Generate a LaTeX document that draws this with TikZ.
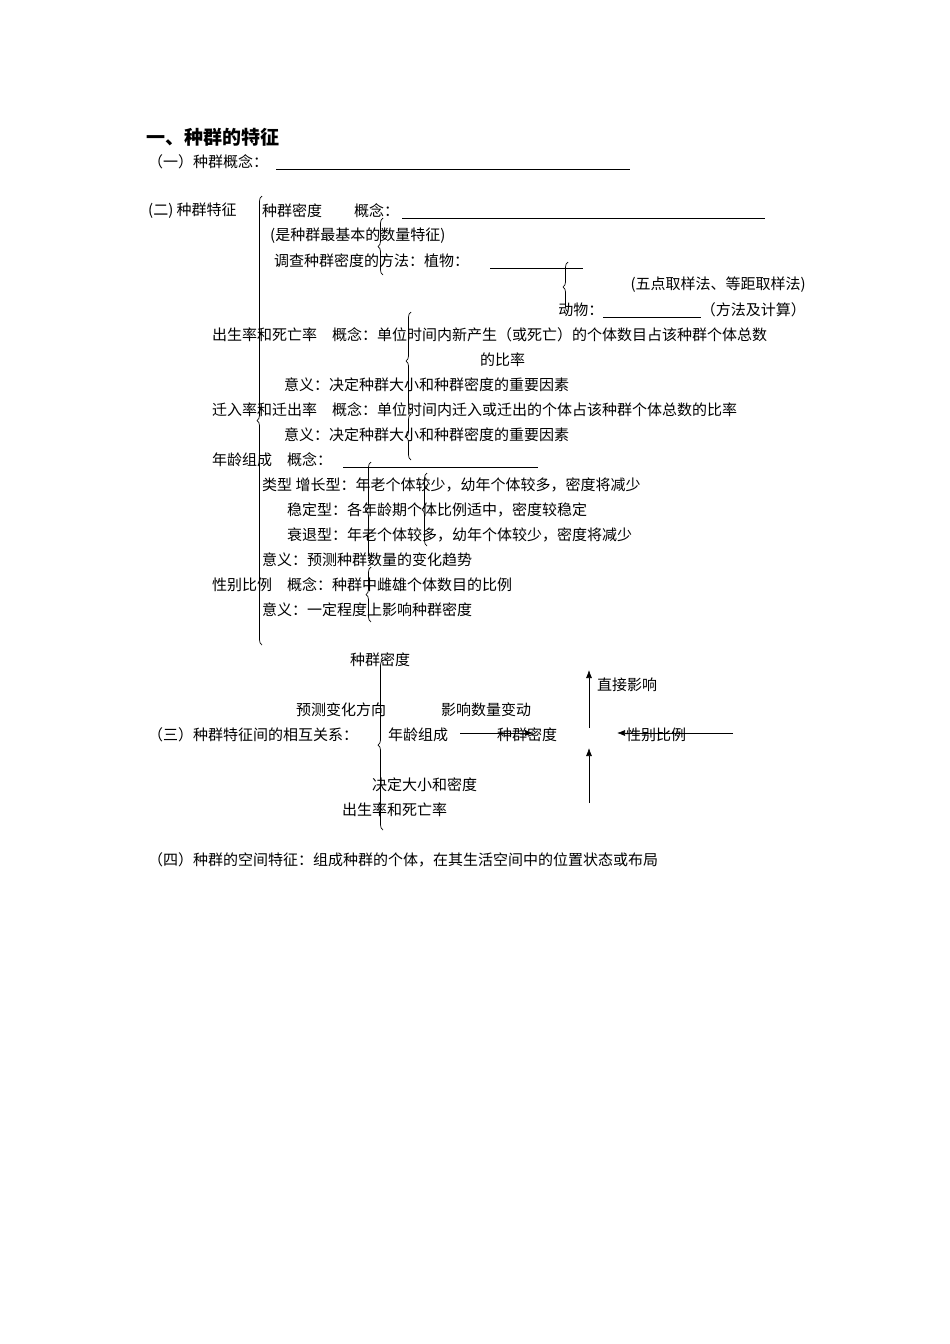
\documentclass[tikz,border=0pt]{standalone}
\usepackage{fontspec}
\setmainfont{Liberation Serif}
\newfontfamily\cjk{Noto Sans CJK SC}
\usetikzlibrary{decorations.pathreplacing,arrows.meta}
\begin{document}
\begin{tikzpicture}[x=1pt,y=-1pt,
  t/.style={anchor=west,inner sep=0pt,font=\cjk\fontsize{15}{15}\selectfont},
  tr/.style={anchor=east,inner sep=0pt,font=\cjk\fontsize{15}{15}\selectfont},
  br/.style={decorate,decoration={brace,amplitude=5pt},line width=0.7pt},
  ul/.style={line width=0.6pt},
  ar/.style={-{Latex[length=8pt,width=6pt]},line width=0.7pt}]
\useasboundingbox (0,0) rectangle (950,1344);
\node[t,font=\cjk\bfseries\fontsize{19}{19}\selectfont] (title) at (146,137) {一、种群的特征};
\node[t] (s1) at (148,162) {（一）种群概念：};
\coordinate (u1a) at (276,169); \coordinate (u1b) at (630,169);
\draw[ul] (u1a) -- (u1b);
\node[t] (s2) at (148,211) {(二) 种群特征};
\node[t] (md) at (262,211) {种群密度};
\node[t] (gn1) at (354,211) {概念：};
\coordinate (u2a) at (402,218); \coordinate (u2b) at (765,218);
\draw[ul] (u2a) -- (u2b);
\node[t] (jb) at (270,236) {(是种群最基本的数量特征)};
\node[t] (dc) at (274,261) {调查种群密度的方法：植物：};
\coordinate (u3a) at (490,268); \coordinate (u3b) at (583,268);
\draw[ul] (u3a) -- (u3b);
\node[tr] (wd) at (806,285) {(五点取样法、等距取样法)};
\node[tr] (dw) at (806,310) {动物：\underline{\hspace{6.5em}}（方法及计算）};
\node[t] (cs) at (212,335) {出生率和死亡率\quad 概念：单位时间内新产生（或死亡）的个体数目占该种群个体总数};
\node[t] (bl) at (480,360) {的比率};
\node[t] (yy1) at (284,385) {意义：决定种群大小和种群密度的重要因素};
\node[t] (qr) at (212,410) {迁入率和迁出率\quad 概念：单位时间内迁入或迁出的个体占该种群个体总数的比率};
\node[t] (yy2) at (284,435) {意义：决定种群大小和种群密度的重要因素};
\node[t] (nl) at (212,460) {年龄组成\quad 概念：};
\coordinate (u4a) at (343,467); \coordinate (u4b) at (538,467);
\draw[ul] (u4a) -- (u4b);
\node[t] (lx) at (262,485) {类型\ 增长型：年老个体较少，幼年个体较多，密度将减少};
\node[t] (wdx) at (287,510) {稳定型：各年龄期个体比例适中，密度较稳定};
\node[t] (st) at (287,535) {衰退型：年老个体较多，幼年个体较少，密度将减少};
\node[t] (yy3) at (262,560) {意义：预测种群数量的变化趋势};
\node[t] (xb) at (212,585) {性别比例\quad 概念：种群中雌雄个体数目的比例};
\node[t] (yy4) at (262,610) {意义：一定程度上影响种群密度};
% braces
\draw[br] (262,645) -- (262,196);
\draw[br] (383,275) -- (383,218);
\draw[br] (568,312) -- (568,262);
\draw[br] (411,410) -- (411,312);
\draw[br] (411,460) -- (411,414);
\draw[br] (427,546) -- (427,473);
\draw[br] (371,560) -- (371,462);
\draw[br] (371,622) -- (371,567);
\draw[br] (383,830) -- (383,660);
% section three
\node[t] (md2) at (350,660) {种群密度};
\node[t] (zj) at (597,685) {直接影响};
\node[t] (yc) at (296,710) {预测变化方向};
\node[t] (yx) at (441,710) {影响数量变动};
\node[t] (s3) at (148,735) {（三）种群特征间的相互关系：};
\node[t] (nl2) at (388,735) {年龄组成};
\node[t] (md3) at (497,735) {种群密度};
\node[t] (xb2) at (626,735) {性别比例};
\node[t] (jd) at (372,785) {决定大小和密度};
\node[t] (cs2) at (342,810) {出生率和死亡率};
\coordinate (a1s) at (460,733); \coordinate (a1e) at (533,733);
\draw[ar] (a1s) -- (a1e);
\coordinate (a2s) at (733,733); \coordinate (a2e) at (617,733);
\draw[ar] (a2s) -- (a2e);
\coordinate (a3s) at (589,728); \coordinate (a3e) at (589,670);
\draw[ar] (a3s) -- (a3e);
\coordinate (a4s) at (589,803); \coordinate (a4e) at (589,748);
\draw[ar] (a4s) -- (a4e);
\node[t] (s4) at (148,860) {（四）种群的空间特征：组成种群的个体，在其生活空间中的位置状态或布局};
\end{tikzpicture}
\end{document}
